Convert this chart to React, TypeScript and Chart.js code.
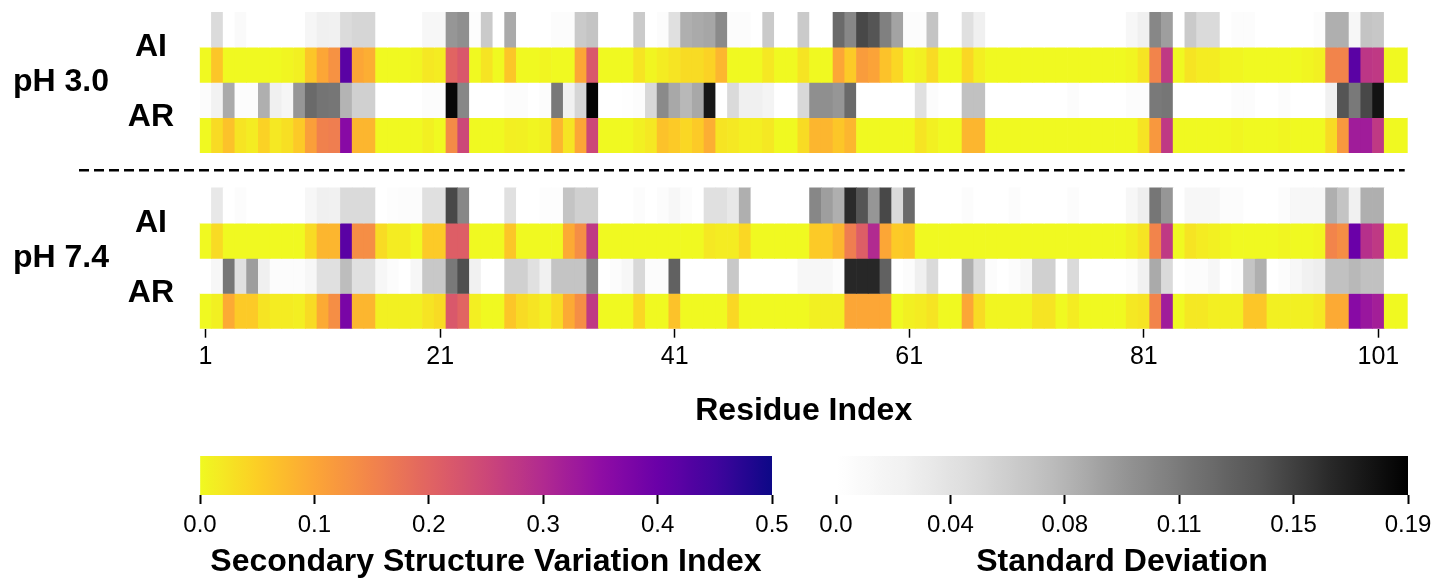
import React, { useEffect, useRef } from 'react';
import { Chart, registerables } from 'chart.js';

Chart.register(...registerables);

// ---------------- data ----------------
const residues = Array.from({ length: 103 }, (_, i) => i + 1);
const xTickLabels = [1, 21, 41, 61, 81, 101];
const groupLabels = ['pH 3.0', 'pH 7.4'];
const systemLabels = ['AI', 'AR'];

const ph30_AI_sd = [
  0, 0.045, 0, 0.008, 0, 0, 0, 0, 0, 0.015,
  0.024, 0.022, 0.045, 0.05, 0.05, 0, 0, 0, 0, 0.012,
  0.012, 0.095, 0.1, 0.003, 0.06, 0, 0.083, 0, 0, 0,
  0.005, 0.005, 0.06, 0.065, 0, 0, 0, 0.06, 0, 0.005,
  0.04, 0.08, 0.083, 0.085, 0.103, 0.005, 0.005, 0, 0.06, 0,
  0, 0.06, 0, 0, 0.125, 0.105, 0.148, 0.14, 0.11, 0.087,
  0.005, 0.005, 0.065, 0, 0, 0.04, 0.024, 0, 0, 0,
  0, 0, 0, 0, 0, 0, 0, 0, 0, 0.012,
  0.024, 0.105, 0.09, 0, 0.06, 0.046, 0.046, 0, 0.005, 0.004,
  0, 0, 0, 0, 0, 0.005, 0.08, 0.08, 0.012, 0.065,
  0.063, 0, 0,
];
const ph30_AI_ssvi = [
  0, 0.06, 0, 0, 0, 0, 0, 0.005, 0.01, 0.06,
  0.1, 0.13, 0.42, 0.1, 0.09, 0, 0, 0, 0.005, 0.02,
  0.015, 0.2, 0.22, 0, 0.025, 0, 0.06, 0, 0, 0.005,
  0, 0, 0.1, 0.22, 0, 0, 0, 0.025, 0.005, 0.015,
  0.025, 0.035, 0.035, 0.045, 0.08, 0, 0, 0, 0.02, 0,
  0, 0.025, 0, 0, 0.1, 0.055, 0.115, 0.105, 0.065, 0.04,
  0.005, 0.01, 0.035, 0, 0, 0.04, 0.012, 0, 0, 0,
  0, 0, 0, 0, 0, 0, 0, 0, 0, 0.005,
  0.025, 0.15, 0.275, 0, 0.025, 0.015, 0.015, 0.005, 0.005, 0,
  0, 0, 0, 0, 0.005, 0.01, 0.15, 0.15, 0.42, 0.28,
  0.275, 0, 0,
];
const ph30_AR_sd = [
  0.005, 0.02, 0.083, 0.005, 0.005, 0.08, 0.024, 0.015, 0.095, 0.125,
  0.118, 0.117, 0.077, 0.055, 0.055, 0, 0, 0, 0, 0.005,
  0.005, 0.185, 0.105, 0, 0, 0, 0.005, 0.005, 0, 0.005,
  0.115, 0.022, 0.05, 0.188, 0, 0, 0.002, 0.004, 0.048, 0.103,
  0.084, 0.074, 0.084, 0.175, 0, 0.046, 0.024, 0.024, 0.018, 0,
  0, 0.048, 0.1, 0.1, 0.095, 0.125, 0, 0, 0, 0,
  0, 0.04, 0.005, 0, 0, 0.068, 0.068, 0, 0, 0,
  0, 0, 0, 0, 0.005, 0, 0, 0, 0, 0.004,
  0.004, 0.115, 0.117, 0, 0, 0, 0, 0, 0.004, 0.004,
  0, 0, 0.004, 0, 0, 0, 0.022, 0.14, 0.115, 0.148,
  0.178, 0, 0,
];
const ph30_AR_ssvi = [
  0, 0.035, 0.065, 0.025, 0.015, 0.045, 0.02, 0.03, 0.055, 0.11,
  0.155, 0.16, 0.36, 0.08, 0.08, 0, 0, 0, 0, 0.01,
  0, 0.14, 0.25, 0, 0, 0, 0.012, 0.01, 0.005, 0.01,
  0.08, 0.025, 0.1, 0.25, 0, 0, 0, 0.01, 0.02, 0.065,
  0.055, 0.04, 0.055, 0.09, 0.025, 0.02, 0.012, 0.012, 0.02, 0,
  0, 0.035, 0.08, 0.08, 0.06, 0.08, 0, 0, 0, 0,
  0, 0.025, 0.01, 0, 0, 0.08, 0.08, 0, 0, 0,
  0, 0, 0, 0, 0, 0, 0, 0, 0, 0,
  0.025, 0.12, 0.275, 0, 0, 0, 0, 0, 0.005, 0,
  0, 0, 0.005, 0, 0, 0, 0.035, 0.12, 0.325, 0.325,
  0.275, 0, 0,
];
const ph74_AI_sd = [
  0, 0.032, 0, 0.004, 0, 0, 0, 0, 0, 0.012,
  0.024, 0.022, 0.046, 0.046, 0.046, 0, 0.003, 0.004, 0.005, 0.04,
  0.04, 0.148, 0.105, 0, 0, 0, 0.04, 0, 0, 0.003,
  0.003, 0.065, 0.055, 0.055, 0, 0, 0, 0.005, 0, 0.004,
  0.012, 0.004, 0, 0.04, 0.04, 0.032, 0.08, 0, 0, 0,
  0, 0, 0.105, 0.09, 0.08, 0.163, 0.14, 0.095, 0.148, 0.046,
  0.125, 0, 0, 0, 0, 0.004, 0, 0, 0, 0.004,
  0, 0, 0, 0, 0.004, 0, 0, 0, 0, 0.012,
  0.026, 0.117, 0.095, 0, 0.012, 0.012, 0.012, 0.005, 0.004, 0,
  0, 0, 0.005, 0.012, 0.012, 0.012, 0.08, 0.065, 0.022, 0.08,
  0.08, 0, 0,
];
const ph74_AI_ssvi = [
  0, 0.035, 0, 0, 0, 0, 0, 0, 0, 0.035,
  0.08, 0.08, 0.42, 0.135, 0.135, 0.035, 0.015, 0.015, 0, 0.055,
  0.055, 0.21, 0.21, 0, 0, 0, 0.06, 0, 0, 0,
  0, 0.095, 0.135, 0.275, 0, 0, 0, 0, 0, 0,
  0, 0, 0, 0.02, 0.015, 0.015, 0.04, 0, 0, 0,
  0, 0, 0.055, 0.055, 0.08, 0.16, 0.21, 0.3, 0.1, 0.055,
  0.06, 0, 0, 0, 0, 0, 0, 0, 0, 0,
  0, 0, 0, 0, 0, 0, 0, 0, 0, 0.01,
  0.025, 0.15, 0.275, 0, 0.025, 0.015, 0.01, 0.005, 0, 0,
  0, 0, 0.005, 0, 0, 0.005, 0.15, 0.135, 0.4, 0.29,
  0.275, 0, 0,
];
const ph74_AR_sd = [
  0, 0.012, 0.117, 0.04, 0.09, 0.024, 0.004, 0.004, 0.004, 0.012,
  0.04, 0.04, 0.071, 0.04, 0.04, 0.012, 0.005, 0, 0.012, 0.062,
  0.062, 0.115, 0.144, 0.022, 0, 0, 0.055, 0.055, 0.04, 0.022,
  0.065, 0.065, 0.065, 0.105, 0, 0.004, 0.012, 0.048, 0.005, 0.004,
  0.132, 0, 0, 0, 0, 0.062, 0, 0, 0, 0,
  0, 0.012, 0.012, 0.012, 0.004, 0.165, 0.165, 0.165, 0.132, 0,
  0.004, 0.024, 0.046, 0, 0, 0.08, 0.046, 0.004, 0, 0.004,
  0.012, 0.055, 0.055, 0, 0.046, 0, 0, 0, 0, 0.005,
  0.022, 0.083, 0.046, 0, 0.005, 0.005, 0.012, 0, 0.005, 0.065,
  0.08, 0, 0.005, 0.012, 0.022, 0.026, 0.068, 0.068, 0.074, 0.068,
  0.068, 0, 0,
];
const ph74_AR_ssvi = [
  0, 0.01, 0.095, 0.055, 0.055, 0.025, 0.015, 0.015, 0.012, 0.035,
  0.095, 0.135, 0.38, 0.08, 0.08, 0.01, 0.01, 0.01, 0.01, 0.025,
  0.035, 0.22, 0.2, 0.012, 0, 0, 0.06, 0.035, 0.025, 0.01,
  0.035, 0.095, 0.135, 0.275, 0, 0, 0, 0.04, 0, 0,
  0.065, 0, 0, 0, 0, 0.04, 0, 0, 0, 0,
  0, 0, 0.01, 0.01, 0.01, 0.1, 0.1, 0.1, 0.1, 0,
  0.01, 0.015, 0.025, 0, 0, 0.1, 0.035, 0.005, 0.005, 0.005,
  0.005, 0.025, 0.025, 0, 0.015, 0, 0, 0, 0, 0.02,
  0.025, 0.15, 0.325, 0, 0.02, 0.02, 0.012, 0.01, 0.01, 0.06,
  0.06, 0.01, 0.01, 0.01, 0.01, 0.02, 0.095, 0.095, 0.36, 0.335,
  0.32, 0, 0,
];

const ssviMax = 0.5;
const sdMax = 0.19;
const ssviTickValues = [0, 0.1, 0.2, 0.3, 0.4, 0.5];
const ssviTickLabels = ['0.0', '0.1', '0.2', '0.3', '0.4', '0.5'];
const sdTickValues = [0, 0.038, 0.076, 0.114, 0.152, 0.19];
const sdTickLabels = ['0.0', '0.04', '0.08', '0.11', '0.15', '0.19'];

// rows: [groupIndex, systemIndex, kind, values]
const rows: [number, number, 'sd' | 'ssvi', number[]][] = [
  [0, 0, 'sd', ph30_AI_sd],
  [0, 0, 'ssvi', ph30_AI_ssvi],
  [0, 1, 'sd', ph30_AR_sd],
  [0, 1, 'ssvi', ph30_AR_ssvi],
  [1, 0, 'sd', ph74_AI_sd],
  [1, 0, 'ssvi', ph74_AI_ssvi],
  [1, 1, 'sd', ph74_AR_sd],
  [1, 1, 'ssvi', ph74_AR_ssvi],
];

// ---------------- colour maps ----------------
const PLASMA = ['#0d0887', '#41049d', '#6a00a8', '#8f0da4', '#b12a90', '#cc4778', '#e16462', '#f2844b', '#fca636', '#fcce25', '#f0f921'];
const GREYS = ['#ffffff', '#f0f0f0', '#d9d9d9', '#bdbdbd', '#969696', '#737373', '#525252', '#252525', '#000000'];

function hexToRgb(h: string) {
  return [parseInt(h.slice(1, 3), 16), parseInt(h.slice(3, 5), 16), parseInt(h.slice(5, 7), 16)];
}
function interp(stops: string[], t: number) {
  const tt = Math.max(0, Math.min(1, t));
  const n = stops.length - 1;
  const p = tt * n;
  const i = Math.min(Math.floor(p), n - 1);
  const f = p - i;
  const a = hexToRgb(stops[i]);
  const b = hexToRgb(stops[i + 1]);
  const c = a.map((v, k) => Math.round(v + (b[k] - v) * f));
  return `rgb(${c[0]},${c[1]},${c[2]})`;
}
const ssviColor = (v: number) => interp(PLASMA, 1 - v / ssviMax);
const sdColor = (v: number) => interp(GREYS, v / sdMax);

const FONT = '"Liberation Sans", Arial, Helvetica, sans-serif';

// layout helpers (row bands in y units)
const rowY = (g: number, s: number, kind: string) => g * 5 + s * 2 + (kind === 'sd' ? 0 : 1);
const systemTickValues: number[] = [];
const systemTickText: string[] = [];
groupLabels.forEach((_, g) => systemLabels.forEach((lab, s) => { systemTickValues.push(g * 5 + s * 2 + 1); systemTickText.push(lab); }));
const groupTickValues = groupLabels.map((_, g) => g * 5 + 2);

const separatorPlugin = {
  id: 'separator',
  afterDraw(chart: any) {
    const y = chart.scales.y.getPixelForValue(4.5);
    const ctx = chart.ctx;
    ctx.save();
    ctx.setLineDash([10, 5]);
    ctx.lineWidth = 2.5;
    ctx.strokeStyle = '#000';
    ctx.beginPath();
    ctx.moveTo(79, y);
    ctx.lineTo(chart.chartArea.right - 3, y);
    ctx.stroke();
    ctx.restore();
  },
};

function gradientFill(colorFn: (v: number) => string, max: number) {
  return (c: any) => {
    const chart = c.chart;
    const area = chart.chartArea;
    if (!area) return 'rgba(0,0,0,0)';
    const g = chart.ctx.createLinearGradient(area.left, 0, area.right, 0);
    for (let i = 0; i <= 50; i++) {
      const t = i / 50;
      g.addColorStop(t, colorFn(t * max));
    }
    return g;
  };
}

function colorbarConfig(colorFn: (v: number) => string, max: number, tickValues: number[], tickLabels: string[], title: string, padRight: number) {
  return {
    type: 'bar' as const,
    data: {
      labels: [''],
      datasets: [{
        data: [[0, max]],
        backgroundColor: gradientFill(colorFn, max),
        barPercentage: 1,
        categoryPercentage: 1,
        borderWidth: 0,
      }],
    },
    options: {
      indexAxis: 'y' as const,
      animation: false as const,
      responsive: true,
      maintainAspectRatio: false,
      events: [],
      layout: { padding: { left: 50, right: padRight, top: 16, bottom: 0 } },
      plugins: { legend: { display: false }, tooltip: { enabled: false } },
      scales: {
        y: { display: false },
        x: {
          type: 'linear' as const,
          min: 0,
          max,
          position: 'bottom' as const,
          grid: { display: true, drawOnChartArea: false, drawTicks: true, tickLength: 9, tickColor: '#000', tickWidth: 2 },
          border: { display: false },
          ticks: {
            color: '#000',
            padding: 7,
            autoSkip: false,
            maxRotation: 0,
            font: { family: FONT, size: 24 },
            callback: (v: number) => {
              const i = tickValues.findIndex((t) => Math.abs(t - v) < 1e-9);
              return i >= 0 ? tickLabels[i] : '';
            },
          },
          afterBuildTicks: (axis: any) => { axis.ticks = tickValues.map((v) => ({ value: v })); },
          afterFit: (axis: any) => { axis.height = 86; },
          title: { display: true, text: title, color: '#000', font: { family: FONT, size: 32, weight: 'bold' as const }, padding: { top: 0, bottom: 0 } },
        },
      },
    },
  };
}

function zeroVerticalPadding(axis: any) {
  axis.paddingTop = 0;
  axis.paddingBottom = 0;
}

export default function App() {
  const mainRef = useRef<HTMLCanvasElement>(null);
  const cb1Ref = useRef<HTMLCanvasElement>(null);
  const cb2Ref = useRef<HTMLCanvasElement>(null);

  useEffect(() => {
    const datasets = rows.map(([g, s, kind, values]) => {
      const y0 = rowY(g, s, kind);
      return {
        data: values.map(() => [y0, y0 + 1]),
        backgroundColor: values.map((v) => (kind === 'sd' ? sdColor(v) : ssviColor(v))),
        barPercentage: 1,
        categoryPercentage: 1,
        borderWidth: 0,
        grouped: false,
        yAxisID: 'y',
      };
    });

    const main = new Chart(mainRef.current!, {
      type: 'bar',
      data: { labels: residues, datasets: datasets as any },
      options: {
        animation: false,
        responsive: true,
        maintainAspectRatio: false,
        events: [],
        layout: { padding: { left: 13, right: 43.3, top: 12, bottom: 0 } },
        plugins: { legend: { display: false }, tooltip: { enabled: false } },
        scales: {
          x: {
            type: 'category',
            offset: true,
            grid: { display: true, drawOnChartArea: false, drawTicks: true, tickLength: 9, tickColor: '#000', tickWidth: 1.5, offset: false },
            border: { display: false },
            ticks: { autoSkip: false, maxRotation: 0, padding: 4, color: '#000', font: { family: FONT, size: 25 } },
            title: { display: true, text: 'Residue Index', color: '#000', font: { family: FONT, size: 32, weight: 'bold' }, padding: { top: 0, bottom: 0 } },
            afterBuildTicks: (axis: any) => {
              axis.ticks = axis.ticks.filter((t: any) => xTickLabels.includes(residues[t.value]));
            },
            afterFit: (axis: any) => { axis.height = 430 - 328.7; },
          } as any,
          y: {
            type: 'linear',
            min: 0,
            max: 9,
            reverse: true,
            position: 'left',
            weight: 0,
            grid: { display: false },
            border: { display: false },
            ticks: {
              color: '#000',
              crossAlign: 'center',
              padding: 17.7,
              autoSkip: false,
              font: { family: FONT, size: 32, weight: 'bold' },
              callback: (v: any) => {
                const i = systemTickValues.indexOf(Number(v));
                return i >= 0 ? systemTickText[i] : '';
              },
            },
            afterBuildTicks: (axis: any) => { axis.ticks = systemTickValues.map((v) => ({ value: v })); },
            afterFit: (axis: any) => { axis.width = 80; zeroVerticalPadding(axis); },
          } as any,
          groups: {
            type: 'linear',
            min: 0,
            max: 9,
            reverse: true,
            position: 'left',
            weight: 1,
            grid: { display: false },
            border: { display: false },
            ticks: {
              color: '#000',
              crossAlign: 'far',
              padding: 0,
              autoSkip: false,
              font: { family: FONT, size: 32, weight: 'bold' },
              callback: (v: any) => {
                const i = groupTickValues.indexOf(Number(v));
                return i >= 0 ? groupLabels[i] : '';
              },
            },
            afterBuildTicks: (axis: any) => { axis.ticks = groupTickValues.map((v) => ({ value: v })); },
            afterFit: (axis: any) => { axis.width = 199.7 - 13 - 80; zeroVerticalPadding(axis); },
          } as any,
        },
      },
      plugins: [separatorPlugin],
    });

    const cb1 = new Chart(cb1Ref.current!, colorbarConfig(ssviColor, ssviMax, ssviTickValues, ssviTickLabels, 'Secondary Structure Variation Index', 58) as any);
    const cb2 = new Chart(cb2Ref.current!, colorbarConfig(sdColor, sdMax, sdTickValues, sdTickLabels, 'Standard Deviation', 43) as any);

    return () => {
      main.destroy();
      cb1.destroy();
      cb2.destroy();
    };
  }, []);

  return (
    <div style={{ position: 'fixed', left: 0, top: 0, width: 1451, height: 581, background: '#fff' }}>
      <div style={{ position: 'absolute', left: 0, top: 0, width: 1451, height: 430 }}>
        <canvas ref={mainRef} />
      </div>
      <div style={{ position: 'absolute', left: 150, top: 440, width: 680, height: 141 }}>
        <canvas ref={cb1Ref} />
      </div>
      <div style={{ position: 'absolute', left: 786, top: 440, width: 665, height: 141 }}>
        <canvas ref={cb2Ref} />
      </div>
    </div>
  );
}
